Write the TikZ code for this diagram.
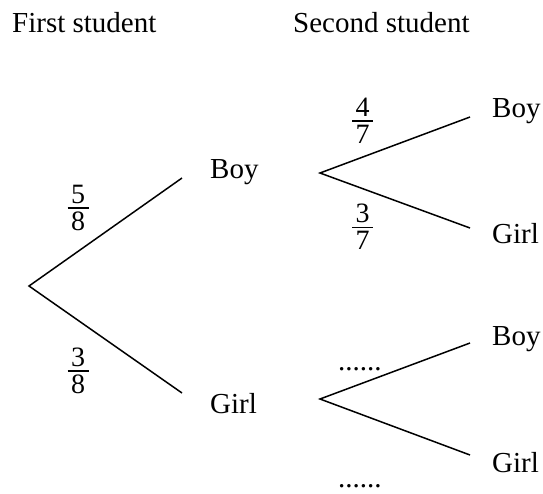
\documentclass[tikz,border=0pt]{standalone}
\usepackage{fontspec}
\setmainfont{Liberation Serif}
\newfontfamily\tms{Liberation Serif}
\newcommand\myfrac[2]{\vbox{\hbox to 21pt{\hss#1\hss}\kern3.6pt\hrule height 1.4pt\kern3.6pt\hbox to 21pt{\hss#2\hss}}}
\begin{document}
\begin{tikzpicture}[x=1pt,y=-1pt,
  lbl/.style={anchor=base west,inner sep=0pt,font=\tms\fontsize{29}{34}\selectfont},
  frc/.style={inner sep=0pt,font=\tms\fontsize{28}{34}\selectfont},
  branch/.style={line width=1.5pt,black}]
\useasboundingbox (0,0) rectangle (543,493);
% headers
\node[lbl] (h1) at (12,32) {First student};
\node[lbl] (h2) at (293,32) {Second student};
% branch points
\coordinate (r) at (29,286);
\coordinate (a1) at (182,178);
\coordinate (a2) at (182,393);
\coordinate (b) at (320,173);
\coordinate (b1) at (470,117);
\coordinate (b2) at (470,228);
\coordinate (c) at (320,399);
\coordinate (c1) at (470,343);
\coordinate (c2) at (470,455);
% lines
\draw[branch] (a1) -- (r) -- (a2);
\draw[branch] (b1) -- (b) -- (b2);
\draw[branch] (c1) -- (c) -- (c2);
% labels
\node[lbl] (boy1) at (210,178) {Boy};
\node[lbl] (girl1) at (210,413) {Girl};
\node[lbl] (boy2) at (492,117) {Boy};
\node[lbl] (girl2) at (492,243) {Girl};
\node[lbl] (boy3) at (492,345) {Boy};
\node[lbl] (girl3) at (492,472) {Girl};
% fractions
\node[frc] (f1) at (78,208) {\myfrac{5}{8}};
\node[frc] (f2) at (78,371) {\myfrac{3}{8}};
\node[frc] (f3) at (362.5,121) {\myfrac{4}{7}};
\node[frc] (f4) at (362.5,227) {\myfrac{3}{7}};
% dots
\node[lbl] (d1) at (338,370) {......};
\node[lbl] (d2) at (338,487) {......};
\end{tikzpicture}
\end{document}
